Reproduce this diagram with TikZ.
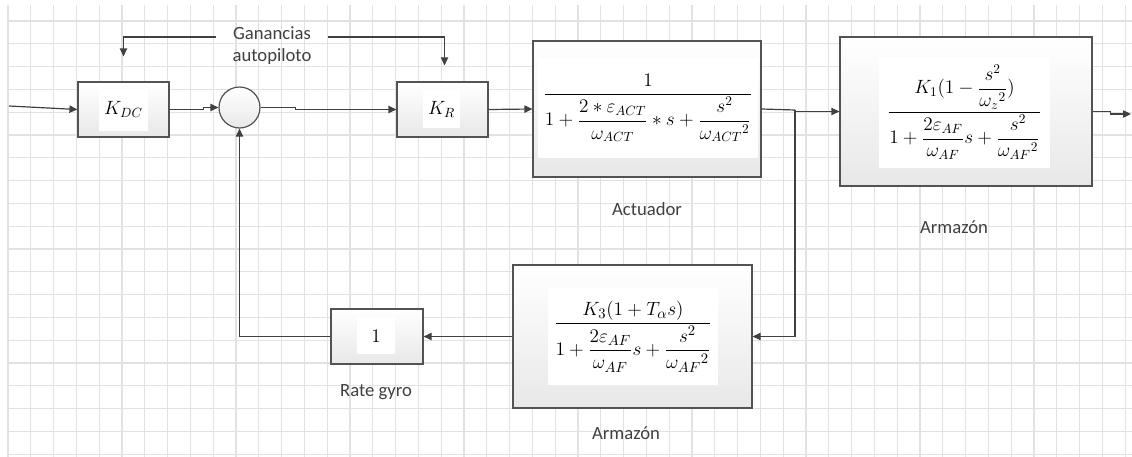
\documentclass[tikz,border=0pt]{standalone}
\usepackage{amsmath}
\usepackage{fontspec}
\setmainfont{Carlito}
\usetikzlibrary{arrows.meta,positioning,calc}
\definecolor{lnc}{HTML}{404040}
\definecolor{gridc}{HTML}{E2E2E2}
\definecolor{txt}{HTML}{404040}

\begin{document}
\begin{tikzpicture}[x=0.75pt,y=-0.75pt,
  blk/.style={draw=lnc!90,top color=white,bottom color=black!9,line width=0.9pt,inner sep=0pt},
  eq/.style 2 args={fill=white,inner sep=0pt,minimum width=#1,minimum height=#2,
              font=\fontsize{14}{16}\selectfont},
  lbl/.style={font=\fontsize{14}{16.5}\selectfont,text=txt},
  arr/.style={-{Triangle[length=6pt,width=5.5pt]},lnc,line width=0.9pt},
  ln/.style={lnc,line width=0.9pt}]

\useasboundingbox (0,0) rectangle (1132,457);

% grid
\foreach \i in {0,...,49}
  \draw[gridc,line width=0.8pt] ({8+22.8*\i},5) -- ({8+22.8*\i},457);
\foreach \j in {0,...,19}
  \draw[gridc,line width=0.8pt] (7,{21+22.8*\j}) -- (1132,{21+22.8*\j});

% forward path
\node[blk,minimum width=68.25pt,minimum height=41.25pt] (kdc) at (123.5,109.5) {};
\node[eq={36.75pt}{31.5pt}] (kdceq) at (kdc) {$K_{DC}$};
\node[circle,draw=lnc!90,top color=white,bottom color=black!9,line width=0.9pt,
      minimum size=30.75pt,inner sep=0pt] (sum) at (239.5,107.5) {};
\node[blk,minimum width=68.25pt,minimum height=41.25pt] (kr) at (442.5,109.5) {};
\node[eq={27.75pt}{28.5pt}] (kreq) at (441.5,109) {$K_{R}$};
\node[blk,minimum width=171pt,minimum height=102pt] (act) at (647,109) {};
\node[eq={165pt}{75pt},font=\fontsize{14.4}{16}\selectfont] (acteq) at (648,108)
  {$\dfrac{1}{1+\dfrac{2*\varepsilon_{ACT}}{\omega_{ACT}}*s+\dfrac{s^{2}}{{\omega_{ACT}}^{2}}}$};
\node[blk,minimum width=189pt,minimum height=111.75pt] (armu) at (966,111.5) {};
\node[eq={128.25pt}{83.25pt},font=\fontsize{14.2}{16}\selectfont] (armueq) at (964.5,112.5)
  {$\dfrac{K_{1}(1-\dfrac{s^{2}}{{\omega_{z}}^{2}})}{1+\dfrac{2\varepsilon_{AF}}{\omega_{AF}}s+\dfrac{s^{2}}{{\omega_{AF}}^{2}}}$};

% feedback path
\node[blk,minimum width=179.25pt,minimum height=107.25pt] (arml) at (632.5,336.5) {};
\node[eq={127.5pt}{72.75pt},font=\fontsize{15.2}{17}\selectfont] (armleq) at (633,336.5)
  {$\dfrac{K_{3}(1+T_{\alpha}s)}{1+\dfrac{2\varepsilon_{AF}}{\omega_{AF}}s+\dfrac{s^{2}}{{\omega_{AF}}^{2}}}$};
\node[blk,minimum width=69pt,minimum height=41.25pt] (gyro) at (377,336.5) {};
\node[eq={28.5pt}{27pt}] (gyroeq) at (376,336) {$1$};

% labels
\node[lbl] (actlbl) at (647,209) {Actuador};
\node[lbl] (armulbl) at (954,227) {Armazón};
\node[lbl] (gyrolbl) at (376,392) {Rate gyro};
\node[lbl] (armllbl) at (626,433) {Armazón};
\node[lbl,align=center,inner xsep=12pt] (gan) at (272,46) {Ganancias\\autopiloto};

\coordinate (in) at (9,106);
\coordinate (gtop) at (272,37);
\coordinate (gL) at ($(kdc.north)+(0,-25)$);
\coordinate (gR) at ($(kr.north)+(2,-16)$);
\coordinate (br) at (795,110);
\coordinate (out) at (1131,114);

\draw[arr] (in) -- (kdc.west);
\draw[arr] (kdc.east) -- ++(34,0) |- (sum.west);
\draw[arr] (sum.east) -- ++(35,0) |- (kr.west);
\draw[arr] (gtop -| gan.west) -| (gL);
\draw[arr] (gtop -| gan.east) -| (gR);
\draw[arr] (kr.east) -- (act.west);
\draw[ln] (act.east) -- (br);
\draw[arr] (br) |- (armu.west);
\draw[arr] (armu.east) -- ++(18,0) |- (out);
\draw[arr] (br) |- (arml.east);
\draw[arr] (arml.west) -- (gyro.east);
\draw[arr] (gyro.west) -| (sum.south);
\end{tikzpicture}
\end{document}
